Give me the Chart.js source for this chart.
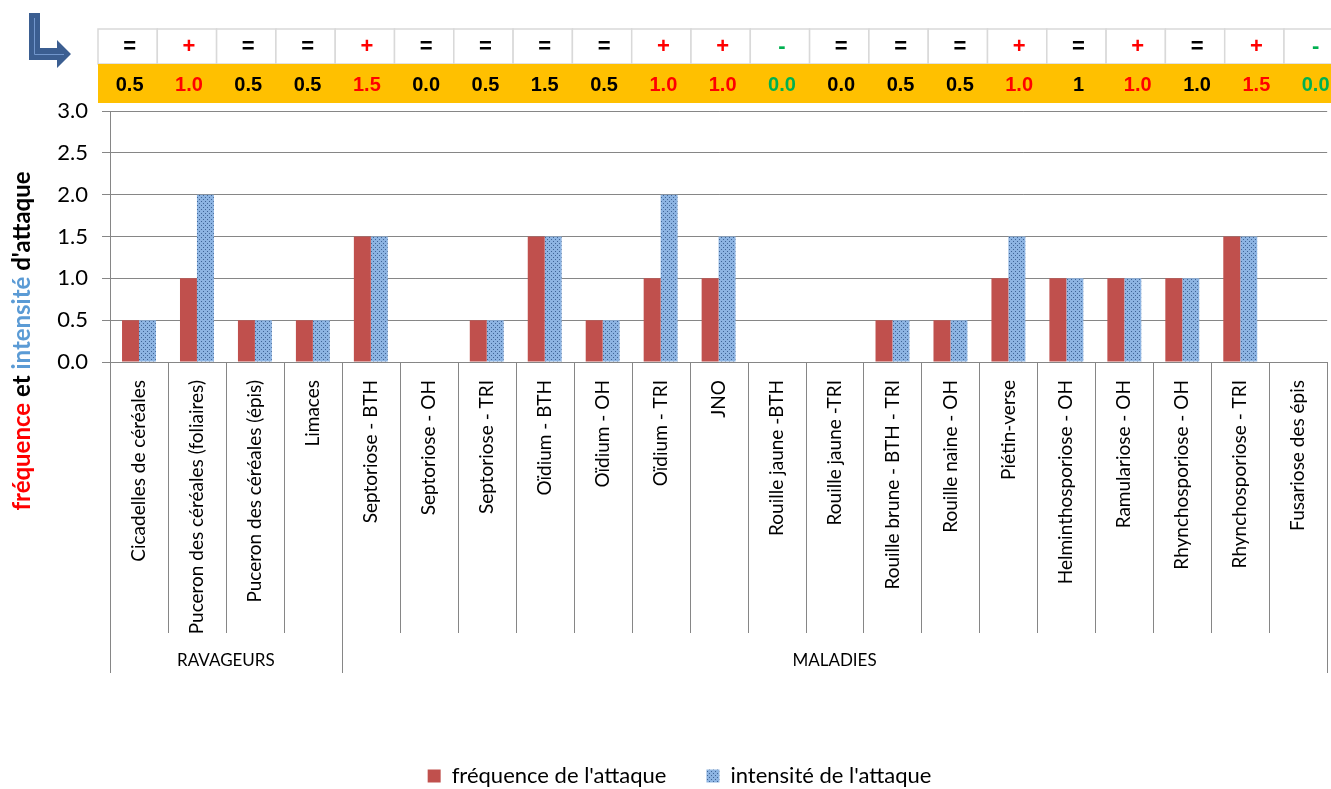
<!DOCTYPE html>
<html>
<head>
<meta charset="utf-8">
<script src="https://cdn.jsdelivr.net/npm/chart.js@4"></script>
<style>
html, body { margin: 0; padding: 0; background: #fff; }
#wrap { width: 1331px; height: 789px; }
</style>
</head>
<body>
<div id="wrap"><canvas id="myChart"></canvas></div>
<script>
const categories = [
    'Cicadelles de céréales',
    'Puceron des céréales (foliaires)',
    'Puceron des céréales (épis)',
    'Limaces',
    'Septoriose - BTH',
    'Septoriose - OH',
    'Septoriose - TRI',
    'Oïdium - BTH',
    'Oïdium - OH',
    'Oïdium - TRI',
    'JNO',
    'Rouille jaune -BTH',
    'Rouille jaune -TRI',
    'Rouille brune - BTH - TRI',
    'Rouille naine - OH',
    'Piétin-verse',
    'Helminthosporiose - OH',
    'Ramulariose - OH',
    'Rhynchosporiose - OH',
    'Rhynchosporiose - TRI',
    'Fusariose des épis'
];
const groupLabels = ['RAVAGEURS', 'MALADIES'];
const groupSizes = [4, 17];

const frequence = [0.5, 1.0, 0.5, 0.5, 1.5, 0, 0.5, 1.5, 0.5, 1.0, 1.0, 0, 0, 0.5, 0.5, 1.0, 1.0, 1.0, 1.0, 1.5, 0];
const intensite = [0.5, 2.0, 0.5, 0.5, 1.5, 0, 0.5, 1.5, 0.5, 2.0, 1.5, 0, 0, 0.5, 0.5, 1.5, 1.0, 1.0, 1.0, 1.5, 0];

// tableau au-dessus du graphique
const tendances = ['=', '+', '=', '=', '+', '=', '=', '=', '=', '+', '+', '-', '=', '=', '=', '+', '=', '+', '=', '+', '-'];
const notes = ['0.5', '1.0', '0.5', '0.5', '1.5', '0.0', '0.5', '1.5', '0.5', '1.0', '1.0', '0.0', '0.0', '0.5', '0.5', '1.0', '1', '1.0', '1.0', '1.5', '0.0'];

const yTicks = [0, 0.5, 1.0, 1.5, 2.0, 2.5, 3.0];

function trendColor(s) {
    if (s == '+') return '#FF0000';
    if (s == '-') return '#00B050';
    return '#000000';
}

function makeDots() {
    const c = document.createElement('canvas');
    c.width = 4;
    c.height = 4;
    const g = c.getContext('2d');
    g.fillStyle = '#8DB4E2';
    g.fillRect(0, 0, 4, 4);
    g.fillStyle = '#3F6496';
    g.fillRect(1, 1, 1, 1);
    g.fillRect(3, 3, 1, 1);
    return g.createPattern(c, 'repeat');
}

const decor = {
    id: 'decor',
    afterDraw(chart) {
        const ctx = chart.ctx;
        const area = chart.chartArea;
        const xs = chart.scales.x;
        const n = categories.length;
        const catW = (area.right - area.left) / n;

        ctx.save();

        // séparateurs de catégories
        ctx.strokeStyle = '#868686';
        ctx.lineWidth = 1;
        const groupEdges = [0];
        let acc = 0;
        groupSizes.forEach(s => { acc += s; groupEdges.push(acc); });
        for (let i = 0; i <= n; i++) {
            const px = Math.round(xs.getPixelForValue(i) - catW / 2) + 0.5;
            const bottom = groupEdges.includes(i) ? 673 : 633;
            ctx.beginPath();
            ctx.moveTo(px, area.bottom);
            ctx.lineTo(px, bottom);
            ctx.stroke();
        }

        // groupes
        ctx.fillStyle = '#000';
        ctx.font = '17px Lato';
        ctx.textAlign = 'center';
        ctx.textBaseline = 'middle';
        for (let g = 0; g < groupLabels.length; g++) {
            const a = xs.getPixelForValue(groupEdges[g]) - catW / 2;
            const b = xs.getPixelForValue(groupEdges[g + 1] - 1) + catW / 2;
            ctx.fillText(groupLabels[g], (a + b) / 2, 661);
        }

        // tableau
        const tLeft = 98, colW = 59.3;
        for (let i = 0; i < n; i++) {
            const cx = tLeft + i * colW;
            ctx.fillStyle = '#FFFFFF';
            ctx.fillRect(cx, 29, colW, 35);
            ctx.strokeStyle = '#D9D9D9';
            ctx.lineWidth = 1.5;
            ctx.strokeRect(cx, 29, colW, 35);
        }
        ctx.fillStyle = '#FFC000';
        ctx.fillRect(tLeft, 64, colW * n, 39);
        for (let i = 0; i < n; i++) {
            const mid = tLeft + (i + 0.5) * colW;
            ctx.fillStyle = trendColor(tendances[i]);
            ctx.font = 'bold 22px "Liberation Sans"';
            ctx.fillText(tendances[i], mid + 2, 47);
            ctx.font = 'bold 20px "Liberation Sans"';
            ctx.fillText(notes[i], mid + 2, 85);
        }

        // flèche
        ctx.fillStyle = '#3B5E91';
        ctx.beginPath();
        ctx.moveTo(29, 13);
        ctx.lineTo(40, 13);
        ctx.lineTo(40, 48);
        ctx.lineTo(57, 48);
        ctx.lineTo(57, 40);
        ctx.lineTo(71, 54);
        ctx.lineTo(57, 68);
        ctx.lineTo(57, 60);
        ctx.lineTo(29, 60);
        ctx.closePath();
        ctx.fill();
        ctx.strokeStyle = '#7196CC';
        ctx.lineWidth = 1;
        ctx.beginPath();
        ctx.moveTo(34.5, 18);
        ctx.lineTo(34.5, 54.5);
        ctx.lineTo(64, 54.5);
        ctx.stroke();

        // titre de l'axe y en plusieurs couleurs
        const parts = [
            ['fréquence', '#FF0000'],
            [' et ', '#000000'],
            ['intensité', '#5B9BD5'],
            [" d'attaque", '#000000']
        ];
        ctx.font = 'bold 24px Lato';
        ctx.textBaseline = 'middle';
        ctx.textAlign = 'left';
        let total = 0;
        parts.forEach(p => total += ctx.measureText(p[0]).width);
        ctx.translate(22, 341);
        ctx.rotate(-Math.PI / 2);
        let pos = -total / 2;
        parts.forEach(p => {
            ctx.fillStyle = p[1];
            ctx.fillText(p[0], pos, 0);
            pos += ctx.measureText(p[0]).width;
        });

        ctx.restore();
    }
};

const ctx = document.getElementById('myChart').getContext('2d');
const myChart = new Chart(ctx, {
    type: 'bar',
    data: {
        labels: categories,
        datasets: [{
                label: "fréquence de l'attaque",
                data: frequence,
                backgroundColor: '#C0504D',
                borderWidth: 0
            },
            {
                label: "intensité de l'attaque",
                data: intensite,
                backgroundColor: makeDots(),
                borderWidth: 0
            }
        ]
    },
    options: {
        responsive: true,
        maintainAspectRatio: false,
        animation: false,
        layout: {
            padding: { top: 111, left: 28, right: 0, bottom: -8 }
        },
        datasets: {
            bar: {
                categoryPercentage: 0.585,
                barPercentage: 1.0
            }
        },
        scales: {
            x: {
                grid: { display: false },
                border: { display: false },
                ticks: {
                    autoSkip: false,
                    minRotation: 90,
                    maxRotation: 90,
                    padding: 10,
                    color: '#000',
                    font: { family: 'Lato', size: 19 }
                },
                afterFit(scale) { scale.height = 363; }
            },
            y: {
                min: 0,
                max: 3,
                afterBuildTicks(scale) {
                    scale.ticks = yTicks.map(v => ({ value: v }));
                },
                grid: {
                    color: '#868686',
                    tickColor: '#868686',
                    tickLength: 8,
                    lineWidth: 1
                },
                border: { color: '#868686' },
                ticks: {
                    padding: 14,
                    color: '#000',
                    font: { family: 'Lato', size: 22 },
                    callback: v => v.toFixed(1)
                },
                afterFit(scale) { scale.width = 82; }
            }
        },
        plugins: {
            legend: {
                position: 'bottom',
                labels: {
                    boxWidth: 13,
                    boxHeight: 13,
                    padding: 40,
                    color: '#000',
                    font: { family: 'Lato', size: 22 }
                }
            },
            tooltip: { enabled: false }
        }
    },
    plugins: [decor]
});
</script>
</body>
</html>
